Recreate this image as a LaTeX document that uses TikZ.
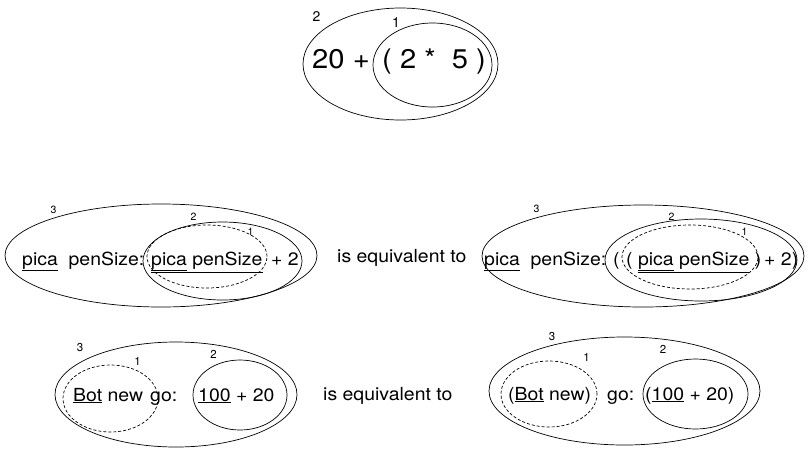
\documentclass[tikz,border=0pt]{standalone}
\usepackage{fontspec}
\setmainfont{TeX Gyre Heros}
\usepackage{tikz}
\usetikzlibrary{shapes.geometric}

\begin{document}
\begin{tikzpicture}[x=1pt, y=-1pt,
    grp/.style={draw, ellipse, inner sep=0pt, line width=0.7pt},
    grpdash/.style={grp, dashed, dash pattern=on 3pt off 2pt},
    expr/.style={inner sep=0pt, anchor=base west, font=\fontsize{18}{21}\selectfont, xscale=1.08},
    bigexpr/.style={expr, font=\fontsize{27}{32}\selectfont},
    tag/.style={inner sep=0pt, font=\fontsize{10.5}{12}\selectfont},
    bigtag/.style={tag, font=\fontsize{14}{16}\selectfont},
    midtag/.style={tag, font=\fontsize{11.5}{13}\selectfont}]
  \useasboundingbox (0,0) rectangle (806,448);

  % 20 + (2 * 5)
  \node[grp, minimum width=195pt, minimum height=112pt] (topTwo) at (400.5,64) {};
  \node[grp, minimum width=119pt, minimum height=84pt] (topOne) at (432.5,65) {};
  \node[bigexpr] (topSum) at (312,68) {20 +};
  \node[bigexpr] (topMul) at (382,68) {( 2 *\ \ 5 )};
  \node[bigtag] (topTwoTag) at (316.5,16.5) {2};
  \node[bigtag] (topOneTag) at (396,23) {1};

  % pica penSize: pica penSize + 2
  \node[grp, minimum width=312pt, minimum height=103pt] (penThree) at (161,255.5) {};
  \node[grp, minimum width=159pt, minimum height=78pt] (penTwo) at (222.5,261) {};
  \node[grpdash, minimum width=120pt, minimum height=63pt] (penOne) at (207,256.5) {};
  \node[expr] (penRcv) at (22,265) {\underline{pica}\ \ penSize:};
  \node[expr] (penArg) at (151,265) {\underline{\underline{pica} penSize}};
  \node[expr] (penAdd) at (271,265) {+ 2};
  \node[tag] (penThreeTag) at (53.5,210) {3};
  \node[tag] (penTwoTag) at (193.5,217) {2};
  \node[tag] (penOneTag) at (250.5,232) {1};

  \node[expr] (eqTop) at (337,262) {is equivalent to};

  % pica penSize: ((pica penSize) + 2)
  \node[grp, minimum width=322pt, minimum height=102pt] (parThree) at (643,256) {};
  \node[grp, minimum width=192pt, minimum height=82pt] (parTwo) at (701,260) {};
  \node[grpdash, minimum width=136pt, minimum height=64pt] (parOne) at (690,257) {};
  \node[expr] (parRcv) at (484,265) {\underline{pica}\ \ penSize:};
  \node[expr] (parOpen) at (613,265) {(};
  \node[expr] (parArg) at (626,265) {( \underline{\underline{pica} penSize} )};
  \node[expr] (parAdd) at (764,265) {+ 2)};
  \node[tag] (parThreeTag) at (536.5,209) {3};
  \node[tag] (parTwoTag) at (671.5,216.5) {2};
  \node[tag] (parOneTag) at (744.5,232) {1};

  % Bot new go: 100 + 20
  \node[grp, minimum width=242pt, minimum height=105pt] (botThree) at (176,394.5) {};
  \node[grpdash, minimum width=95pt, minimum height=67pt] (botOne) at (110.5,398.5) {};
  \node[grp, minimum width=94pt, minimum height=70pt] (botTwo) at (240,395) {};
  \node[expr] (botRcv) at (73,401) {\underline{Bot} new};
  \node[expr] (botSel) at (150,401) {go:};
  \node[expr] (botArg) at (198,401) {\underline{100} + 20};
  \node[midtag] (botThreeTag) at (80,347.5) {3};
  \node[midtag] (botOneTag) at (137.5,361) {1};
  \node[midtag] (botTwoTag) at (213.5,354) {2};

  \node[expr] (eqBot) at (323,400) {is equivalent to};

  % (Bot new) go: (100 + 20)
  \node[grp, minimum width=271pt, minimum height=108pt] (newThree) at (624.5,391) {};
  \node[grpdash, minimum width=96pt, minimum height=66pt] (newOne) at (549,394) {};
  \node[grp, minimum width=105pt, minimum height=70pt] (newTwo) at (695.5,394) {};
  \node[expr] (newRcv) at (508,400) {(\underline{Bot} new)};
  \node[expr] (newSel) at (607,400) {go:};
  \node[expr] (newArg) at (645,400) {(\underline{100} + 20)};
  \node[midtag] (newThreeTag) at (552,337) {3};
  \node[midtag] (newOneTag) at (586.5,357) {1};
  \node[midtag] (newTwoTag) at (663,349.5) {2};
\end{tikzpicture}
\end{document}
